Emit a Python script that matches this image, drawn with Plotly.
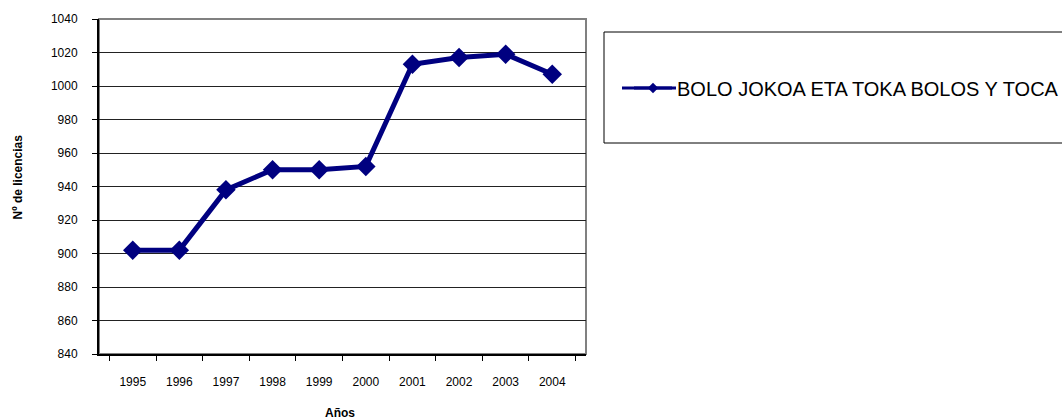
import plotly.graph_objects as go

years = ["1995", "1996", "1997", "1998", "1999", "2000", "2001", "2002", "2003", "2004"]
licencias = [902, 902, 938, 950, 950, 952, 1013, 1017, 1019, 1007]
series_name = "BOLO JOKOA ETA TOKA BOLOS Y TOCA"

W, H = 1062, 419
OFF = 0  # body margin removed via post_script
L, T = 99, 19
pw, ph = 487, 335
R = W - L - pw
B = H - T - ph
NAVY = "#000080"

def px_x(page_x):
    return (page_x - OFF - L) / pw

def px_y(page_y):
    return (H - B - (page_y - OFF)) / ph

def cx(page_x):
    return (page_x - OFF) / W

def cy(page_y):
    return 1 - (page_y - OFF) / H

fig = go.Figure()
fig.add_trace(go.Scatter(
    x=years, y=licencias, mode="lines+markers", name=series_name,
    line=dict(color=NAVY, width=5),
    marker=dict(symbol="diamond", size=15, color=NAVY),
    showlegend=False,
))
# legend entry proxy (small symbol like the original legend)
fig.add_trace(go.Scatter(
    x=[None], y=[None], mode="lines+markers", name=series_name,
    line=dict(color=NAVY, width=3),
    marker=dict(symbol="diamond", size=8, color=NAVY),
    showlegend=True,
))

fig.update_layout(
    width=W, height=H,
    margin=dict(l=L, r=R, t=T, b=B, autoexpand=False),
    paper_bgcolor="white", plot_bgcolor="white",
    font=dict(family="Arial, Liberation Sans, sans-serif", size=12, color="black"),
    showlegend=True,
    legend=dict(
        xref="container", yref="container",
        x=cx(629), y=cy(88), xanchor="left", yanchor="middle",
        font=dict(size=20, color="black"),
        bgcolor="rgba(0,0,0,0)", borderwidth=0, itemwidth=38,
    ),
    xaxis=dict(
        type="category", tickson="boundaries", ticks="outside", ticklen=5,
        tickcolor="black", showline=True, linecolor="black", linewidth=2,
        showgrid=False, ticklabelstandoff=16, automargin=False,
    ),
    yaxis=dict(
        range=[840, 1040], dtick=20, ticks="outside", ticklen=5, tickcolor="black",
        showline=True, linecolor="black", linewidth=2,
        showgrid=True, gridcolor="#222222", gridwidth=1, zeroline=False,
        ticklabelstandoff=12, automargin=False,
    ),
    annotations=[
        dict(text="<b>Años</b>", xref="paper", yref="paper",
             x=px_x(340), y=px_y(413), showarrow=False,
             xanchor="center", yanchor="middle", font=dict(size=12)),
        dict(text="<b>Nº de licencias</b>", xref="paper", yref="paper",
             x=px_x(17.5), y=px_y(177), showarrow=False, textangle=-90,
             xanchor="center", yanchor="middle", font=dict(size=12)),
    ],
    shapes=[
        dict(type="rect", xref="paper", yref="paper", x0=0, x1=1, y0=0, y1=1,
             line=dict(color="#808080", width=2), layer="below"),
        dict(type="rect", xref="paper", yref="paper",
             x0=px_x(604), x1=px_x(1120), y0=px_y(143), y1=px_y(32),
             line=dict(color="black", width=1), layer="below"),
        dict(type="line", xref="paper", yref="paper",
             x0=px_x(622), x1=px_x(676), y0=px_y(88), y1=px_y(88),
             line=dict(color=NAVY, width=3), layer="above"),
    ],
)

fig.write_html(
    "out.html",
    config={"displayModeBar": False},
    post_script="document.body.style.margin='0';document.body.style.overflow='hidden';",
)
